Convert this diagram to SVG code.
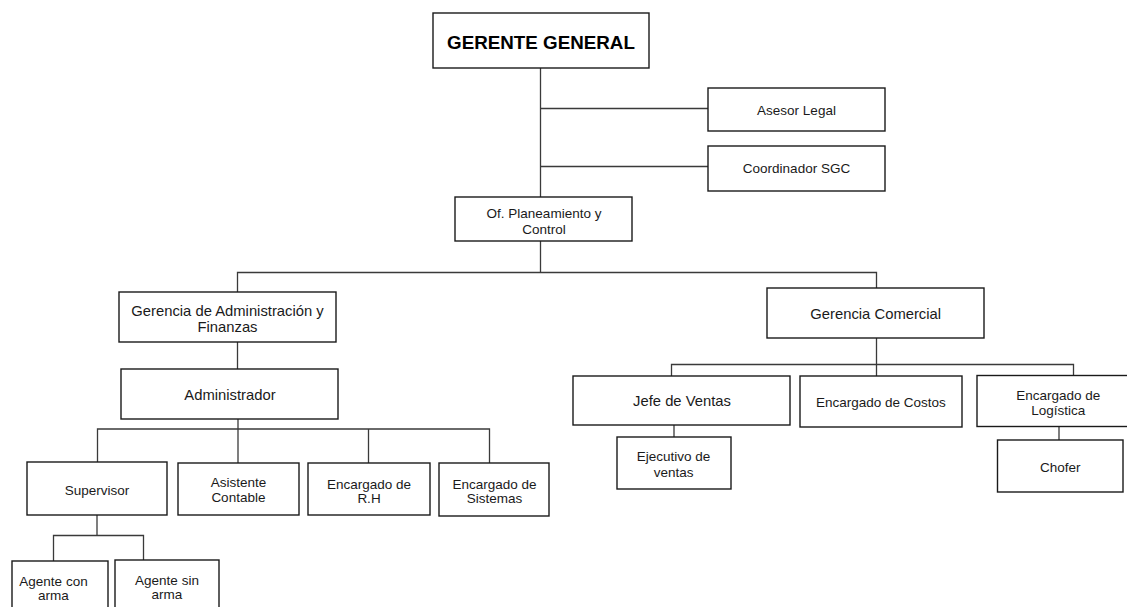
<svg xmlns="http://www.w3.org/2000/svg" width="1127" height="607" viewBox="0 0 1127 607">
  <style>
    .box { fill: #ffffff; stroke: #1a1a1a; stroke-width: 1.4; }
    .wire { fill: none; stroke: #3a3a3a; stroke-width: 1.3; }
    text { font-family: "Liberation Sans", Arial, sans-serif; fill: #1a1a1a; text-anchor: middle; }
    .sm { font-size: 13.5px; }
    .md { font-size: 14.8px; }
    .hd { font-size: 18.8px; font-weight: bold; fill: #000000; }
  </style>
  <rect width="1127" height="607" fill="#ffffff"/>

  <!-- connectors -->
  <g id="connectors">
    <path class="wire" d="M540.5 68 V197"/>
    <path class="wire" d="M540.5 108.5 H708"/>
    <path class="wire" d="M540.5 166.5 H708"/>
    <path class="wire" d="M540.5 241 V272.5"/>
    <path class="wire" d="M237.5 292 V272.5 H876.5 V288"/>
    <path class="wire" d="M237.5 342 V369"/>
    <path class="wire" d="M238 419 V463"/>
    <path class="wire" d="M97.5 462 V429 H489.5 V463"/>
    <path class="wire" d="M368.5 429 V463"/>
    <path class="wire" d="M97 515 V535.5"/>
    <path class="wire" d="M53.5 561 V535.5 H143.5 V561"/>
    <path class="wire" d="M876.5 338 V376"/>
    <path class="wire" d="M671.5 376 V364.5 H1073.5 V376"/>
    <path class="wire" d="M674 425 V437"/>
    <path class="wire" d="M1059 427 V440"/>
  </g>

  <g id="gerente-general">
    <rect class="box" x="433" y="13" width="216" height="55"/>
    <text class="hd" x="541" y="48.5">GERENTE GENERAL</text>
  </g>

  <g id="asesor-legal">
    <rect class="box" x="708" y="88" width="177" height="43"/>
    <text class="sm" x="796.5" y="115">Asesor Legal</text>
  </g>

  <g id="coordinador-sgc">
    <rect class="box" x="708" y="146" width="177" height="45"/>
    <text class="sm" x="796.5" y="173.3">Coordinador SGC</text>
  </g>

  <g id="planeamiento">
    <rect class="box" x="455" y="197" width="177" height="44"/>
    <text class="sm" x="544" y="218.3">Of. Planeamiento y</text>
    <text class="sm" x="544" y="233.5">Control</text>
  </g>

  <g id="gerencia-administracion">
    <rect class="box" x="119" y="292" width="217" height="50"/>
    <text class="md" x="227.5" y="315.7">Gerencia de Administración y</text>
    <text class="md" x="227.5" y="331.7">Finanzas</text>
  </g>

  <g id="gerencia-comercial">
    <rect class="box" x="767" y="288" width="217" height="50"/>
    <text class="md" x="875.7" y="319.3">Gerencia Comercial</text>
  </g>

  <g id="administrador">
    <rect class="box" x="121" y="369" width="217" height="50"/>
    <text class="md" x="230" y="399.5">Administrador</text>
  </g>

  <g id="supervisor">
    <rect class="box" x="27" y="462" width="140" height="53"/>
    <text class="sm" x="97" y="495">Supervisor</text>
  </g>

  <g id="asistente-contable">
    <rect class="box" x="178" y="463" width="121" height="52"/>
    <text class="sm" x="238.4" y="486.5">Asistente</text>
    <text class="sm" x="238.4" y="502">Contable</text>
  </g>

  <g id="encargado-rh">
    <rect class="box" x="308" y="463" width="122" height="52"/>
    <text class="sm" x="369" y="488.5">Encargado de</text>
    <text class="sm" x="369" y="503">R.H</text>
  </g>

  <g id="encargado-sistemas">
    <rect class="box" x="439" y="463" width="110" height="53"/>
    <text class="sm" x="494.5" y="488.5">Encargado de</text>
    <text class="sm" x="494.5" y="503">Sistemas</text>
  </g>

  <g id="agente-con-arma">
    <rect class="box" x="12" y="561" width="96" height="50"/>
    <text class="sm" x="53.5" y="585.5">Agente con</text>
    <text class="sm" x="53.5" y="600">arma</text>
  </g>

  <g id="agente-sin-arma">
    <rect class="box" x="115" y="560" width="104" height="51"/>
    <text class="sm" x="167" y="584.5">Agente sin</text>
    <text class="sm" x="167" y="598.5">arma</text>
  </g>

  <g id="jefe-ventas">
    <rect class="box" x="573" y="376" width="217" height="49"/>
    <text class="md" x="682" y="405.5">Jefe de Ventas</text>
  </g>

  <g id="ejecutivo-ventas">
    <rect class="box" x="617" y="437" width="114" height="52"/>
    <text class="sm" x="673.6" y="460.5">Ejecutivo de</text>
    <text class="sm" x="673.6" y="476.5">ventas</text>
  </g>

  <g id="encargado-costos">
    <rect class="box" x="800" y="376" width="162" height="51"/>
    <text class="sm" x="880.8" y="407">Encargado de Costos</text>
  </g>

  <g id="encargado-logistica">
    <rect class="box" x="977" y="375.5" width="160" height="51"/>
    <text class="sm" x="1058.3" y="400">Encargado de</text>
    <text class="sm" x="1058.3" y="414.5">Logística</text>
  </g>

  <g id="chofer">
    <rect class="box" x="997.5" y="440" width="125.5" height="52"/>
    <text class="sm" x="1060.3" y="472.3">Chofer</text>
  </g>
</svg>
